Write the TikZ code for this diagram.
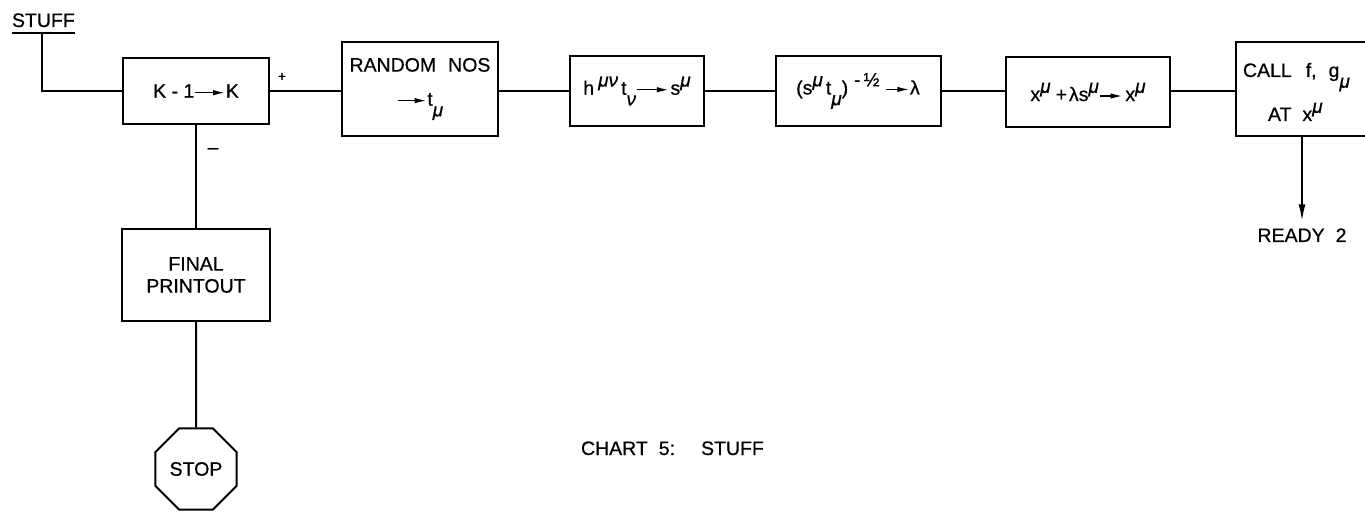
\documentclass[tikz,border=0pt]{standalone}
\usepackage{fontspec}
\setmainfont{Liberation Sans}[FakeBold=0.6]
\usetikzlibrary{shapes.geometric,arrows.meta}
\newcommand{\arr}[1][28pt]{\tikz[baseline=-5pt]\draw[line width=1.5pt,-{Latex[length=12pt,width=5.5pt]}] (0pt,0pt)--(#1,0pt);}
\newcommand{\up}[1]{\raisebox{0.42em}{\fontsize{19}{19}\selectfont #1}}
\newcommand{\dn}[1]{\raisebox{-0.55em}{\fontsize{19}{19}\selectfont #1}}
\newcommand{\gm}{\textit{μ}}
\newcommand{\gn}{\textit{ν}}
\begin{document}
\begin{tikzpicture}[x=1pt,y=-1pt,line width=2pt,
  font=\fontsize{19.5}{22}\selectfont,
  box/.style={draw,inner sep=0pt,outer sep=0pt,align=center},
  lbl/.style={inner sep=0pt,outer sep=0pt},
  flow/.style={line width=2pt},
  down/.style={line width=2pt,-{Latex[length=17pt,width=7pt]}}]
\useasboundingbox (0,0) rectangle (1365,518);
% boxes
\node[box,minimum width=146pt,minimum height=66pt] (k) at (196,91) {K - 1\arr[30pt]K};
\node[box,minimum width=156pt,minimum height=94pt] (r) at (420,89) {RANDOM\hspace{12pt}NOS\\[12pt]\arr[29pt]t\dn{\gm}};
\node[box,minimum width=134pt,minimum height=70pt] (h) at (637,91) {h\hspace{4pt}\up{\gm\gn}\hspace{3pt}t\dn{\gn}\arr[32pt]\hspace{1pt}s\up{\gm}};
\node[box,minimum width=165pt,minimum height=70pt] (s) at (858,91) {(s\up{\gm}\hspace{3pt}t\dn{\gm})\hspace{6pt}\up{-\,½}\hspace{6pt}\arr[23pt]λ};
\node[box,minimum width=164pt,minimum height=70pt] (x) at (1088,92) {x\up{\gm}\hspace{5pt}+\hspace{2pt}λs\up{\gm}\arr[23pt]\hspace{2pt}x\up{\gm}};
\node[box,minimum width=132pt,minimum height=94pt] (c) at (1302,89) {};
\node[lbl,anchor=base west] (c1) at (1243,77) {CALL\hspace{14pt}f,\hspace{12pt}g\dn{\gm}};
\node[lbl,anchor=base west] (c2) at (1268,121) {AT\hspace{11pt}x\up{\gm}};
\node[box,minimum width=148pt,minimum height=92pt] (f) at (196,275) {FINAL\\PRINTOUT};
\node[draw,regular polygon,regular polygon sides=8,minimum size=88pt,inner sep=0pt] (stop) at (196,469) {STOP};
% labels
\node[lbl,anchor=base west] (stuff) at (12,27) {STUFF};
\draw[line width=2pt] ([yshift=-6pt]stuff.base west) -- ([yshift=-6pt]stuff.base east);
\coordinate (u) at (42,33);
\node[lbl,font=\fontsize{14}{14}\selectfont] (plus) at (282,77) {+};
\node[lbl] (minus) at (213,151) {–};
\node[lbl,anchor=base] (ready) at (1302,242) {READY\hspace{11pt}2};
\node[lbl,anchor=base west] (cap) at (581,455) {CHART\hspace{11pt}5:\hspace{26pt}STUFF};
% connectors
\draw[flow] (u) |- (k.west);
\draw[flow] (k.east) -- (k.east -| r.west);
\draw[flow] (r.east |- h.west) -- (h.west);
\draw[flow] (h.east) -- (s.west);
\draw[flow] (s.east) -- (s.east -| x.west);
\draw[flow] (x.east |- s.east) -- (s.east -| c.west);
\draw[flow] (k.south) -- (f.north);
\draw[flow] (f.south) -- (stop.north);
\draw[down] (c.south) -- ([yshift=7pt]ready.north);
\end{tikzpicture}
\end{document}
